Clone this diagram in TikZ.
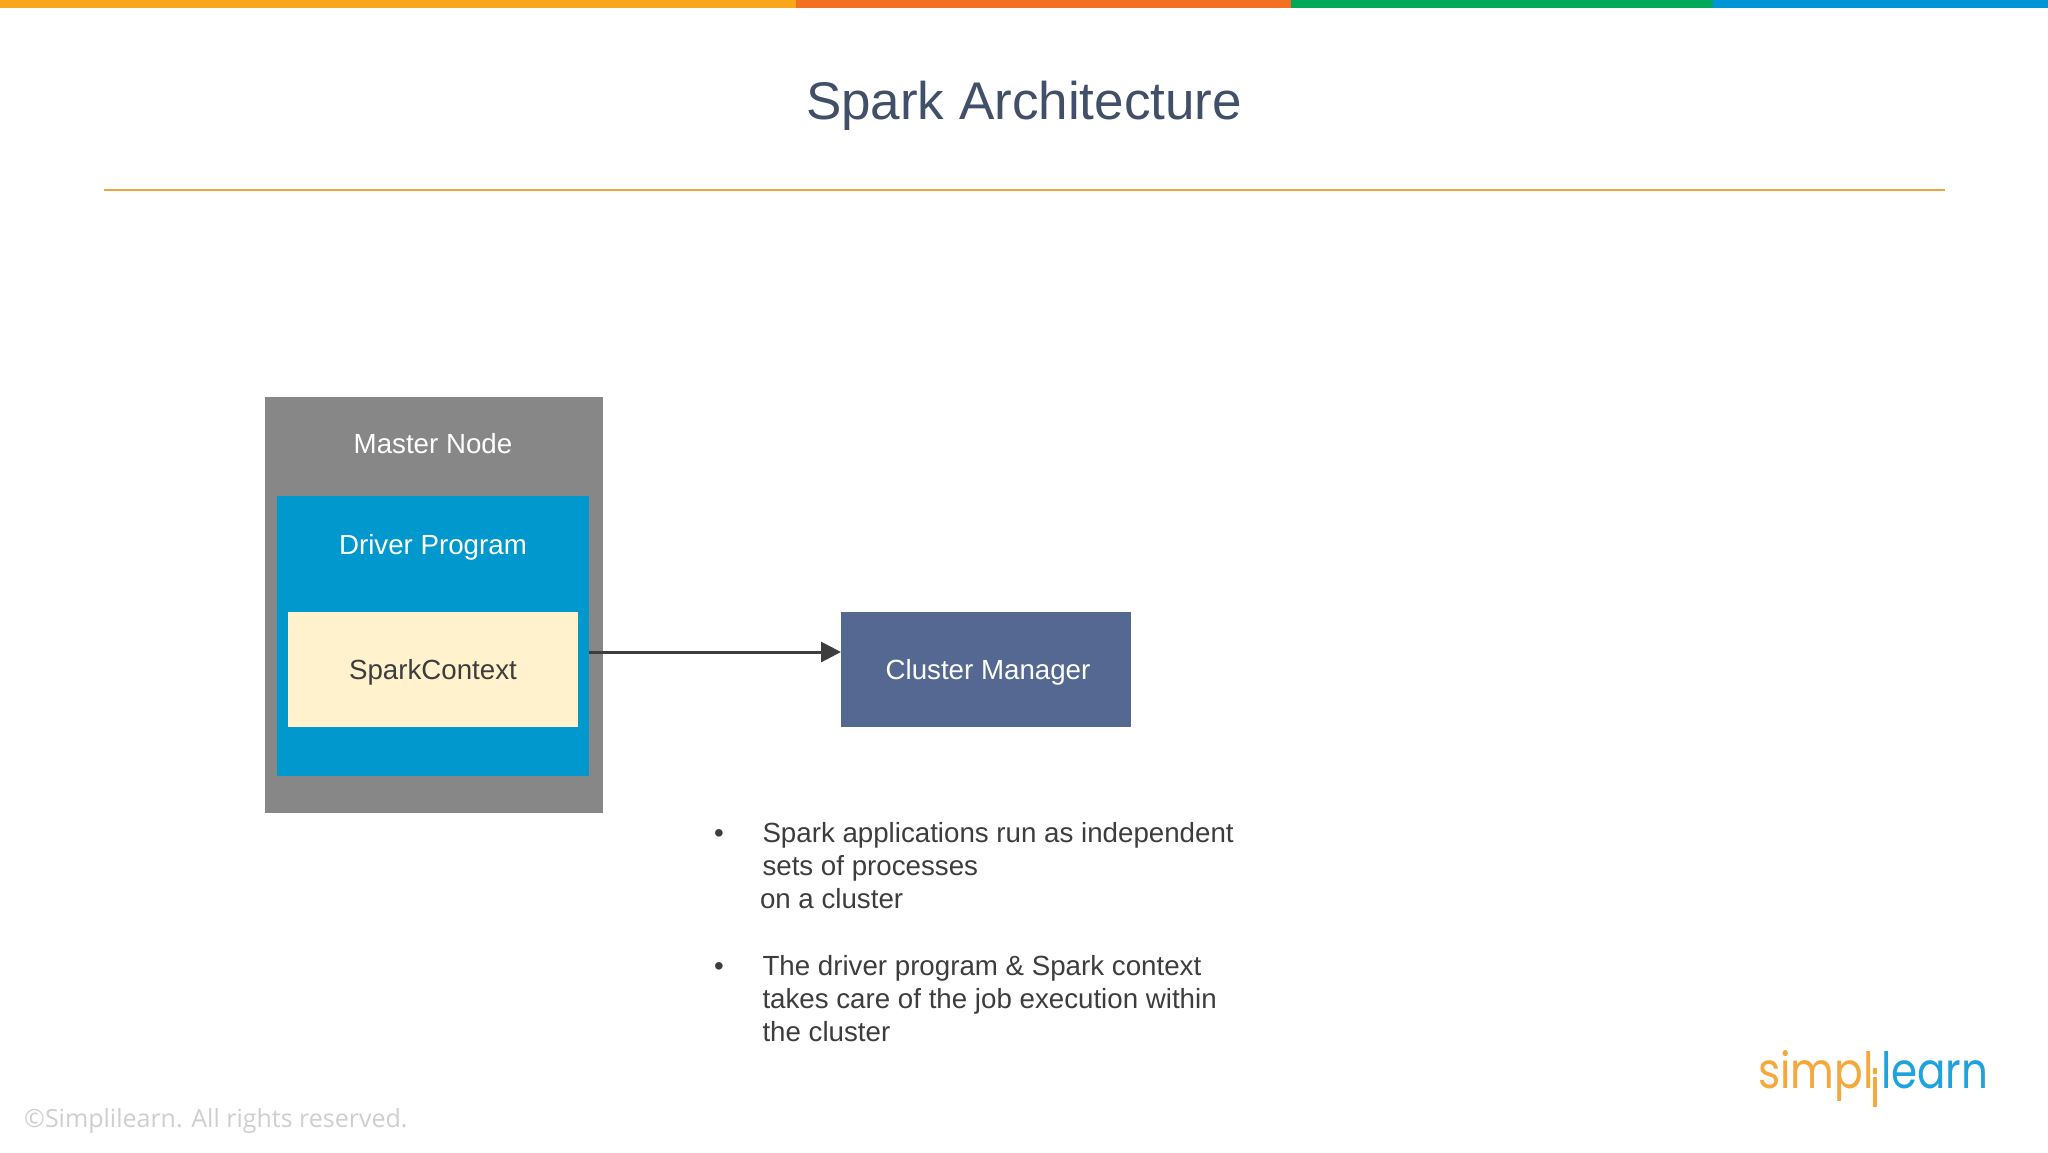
\documentclass[tikz,border=0pt]{standalone}
\usepackage{graphicx}
\usepackage{fontspec}
\setmainfont{Liberation Sans}
\newfontfamily\footfont{Open Sans}
\newfontfamily\logofont{Poppins}
\usetikzlibrary{arrows.meta}
\definecolor{barA}{HTML}{FAA61A}
\definecolor{barB}{HTML}{F37021}
\definecolor{barC}{HTML}{00A85A}
\definecolor{barD}{HTML}{0095D6}
\definecolor{ruleC}{HTML}{E9A63F}
\definecolor{titleC}{HTML}{414F68}
\definecolor{masterC}{HTML}{878787}
\definecolor{driverC}{HTML}{0098CD}
\definecolor{creamC}{HTML}{FFF2CC}
\definecolor{clusterC}{HTML}{546892}
\definecolor{bodyC}{HTML}{3D3D3D}
\definecolor{footC}{HTML}{CFCFCF}
\definecolor{logoA}{HTML}{F5A83C}
\definecolor{logoB}{HTML}{1FA3DE}
\tikzset{
  x=1pt,y=-1pt,
  boxnode/.style={draw=none,inner sep=0pt,outer sep=0pt,anchor=center},
  boxlabel/.style={inner sep=0pt,outer sep=0pt,anchor=base,font=\fontsize{27.7}{33}\selectfont},
  para/.style={inner sep=0pt,outer sep=0pt,anchor=base west,align=left,text=bodyC,font=\fontsize{27.7}{33}\selectfont},
  barpart/.style={inner sep=0pt,outer sep=0pt,anchor=north west,minimum height=8pt},
}
\begin{document}
\begin{tikzpicture}
\useasboundingbox (0,0) rectangle (2048,1152);
\fill[white] (0,0) rectangle (2048,1152);
% top bar
\node[barpart,fill=barA,minimum width=796pt] (barone) at (0,0) {};
\node[barpart,fill=barB,minimum width=495pt] (bartwo) at (796,0) {};
\node[barpart,fill=barC,minimum width=422pt] (barthree) at (1291,0) {};
\node[barpart,fill=barD,minimum width=335pt] (barfour) at (1713,0) {};
% title
\node[inner sep=0pt,anchor=base,text=titleC,font=\fontsize{53}{60}\selectfont] (title) at (1024,119) {Spark Architecture};
\coordinate (ruleL) at (104,190);
\coordinate (ruleR) at (1945,190);
\draw[ruleC,line width=2pt] (ruleL) -- (ruleR);
% boxes
\node[boxnode,fill=masterC,minimum width=338pt,minimum height=416pt] (master) at (434,605) {};
\node[boxlabel,text=white] (masterlabel) at (433,453) {Master Node};
\node[boxnode,fill=driverC,minimum width=312pt,minimum height=280pt] (driver) at (433,636) {};
\node[boxlabel,text=white] (driverlabel) at (433,554) {Driver Program};
\node[boxnode,fill=creamC,minimum width=290.5pt,minimum height=115pt,text=bodyC,text height=20pt,text depth=0pt,font=\fontsize{27.7}{33}\selectfont] (spark) at (433,669.5) {SparkContext};
\node[boxnode,fill=clusterC,minimum width=290pt,minimum height=115pt,text=white,text height=20pt,text depth=0pt,font=\fontsize{27.7}{33}\selectfont] (cluster) at (986,669.5) {\hspace*{4pt}Cluster Manager};
% arrow
\coordinate (arrowrow) at (700,652);
\draw[-{Triangle[length=20pt,width=20pt]},line width=3pt,color=bodyC] (driver.east |- arrowrow) -- (cluster.west |- arrowrow);
% bullets
\node[para] (bulletA) at (714,842) {•};
\node[para] (paraA) at (762.5,908) {Spark applications run as independent\\sets of processes\\\hspace*{-2.5pt}on a cluster};
\node[para] (bulletB) at (714,975) {•};
\node[para] (paraB) at (762.5,1041) {The driver program \& Spark context\\takes care of the job execution within\\the cluster};
% footer
\node[inner sep=0pt,anchor=base west,text=footC,font=\footfont\fontsize{25}{30}\selectfont] (foot) at (24,1127) {©Simplilearn. All rights reserved.};
% logo
\node[inner sep=0pt,anchor=base west,text=logoA,font=\logofont\fontsize{50}{50}\selectfont] (logoL) at (1758,1088) {\scalebox{0.85}[1]{simpl}};
\node[inner sep=0pt,anchor=base west,text=logoB,font=\logofont\fontsize{50}{50}\selectfont] (logoR) at (1881,1088) {\scalebox{0.84}[1]{learn}};
\fill[logoA] (1872.5,1068) rectangle (1876.5,1074);
\fill[logoA] (1872.5,1077) rectangle (1876.5,1107);
\end{tikzpicture}
\end{document}
